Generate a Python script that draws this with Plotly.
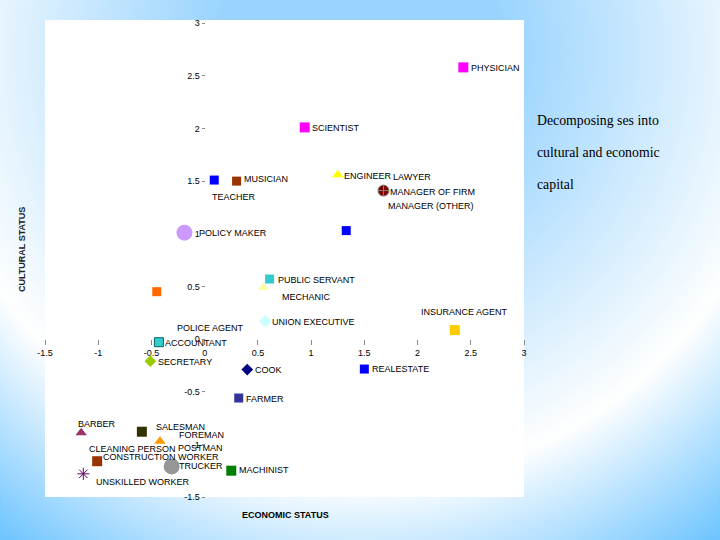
import zlib, struct, base64
import numpy as np
import plotly.graph_objects as go

# ---------------- data ----------------
occupations = ["PHYSICIAN", "SCIENTIST", "TEACHER", "MUSICIAN", "ENGINEER", "LAWYER",
               "MANAGER OF FIRM", "MANAGER (OTHER)", "POLICY MAKER", "POLICE AGENT",
               "PUBLIC SERVANT", "MECHANIC", "UNION EXECUTIVE", "INSURANCE AGENT",
               "ACCOUNTANT", "SECRETARY", "COOK", "REALESTATE", "FARMER", "BARBER",
               "SALESMAN", "POSTMAN", "CONSTRUCTION WORKER", "TRUCKER", "MACHINIST",
               "UNSKILLED WORKER"]
economic = [2.43, 0.94, 0.09, 0.30, 1.25, 1.70, 1.68, 1.33, -0.19, -0.45,
            0.61, 0.55, 0.57, 2.35, -0.43, -0.51, 0.40, 1.50, 0.32, -1.16,
            -0.59, -0.42, -1.01, -0.31, 0.25, -1.14]
cultural = [2.58, 2.01, 1.51, 1.50, 1.56, 1.54, 1.41, 1.03, 1.01, 0.45,
            0.57, 0.49, 0.17, 0.085, -0.03, -0.21, -0.29, -0.285, -0.56, -0.89,
            -0.88, -0.97, -1.16, -1.21, -1.25, -1.28]
marker_colors = ["#FF00FF", "#FF00FF", "#0000FF", "#993300", "#FFFF00", "#CCFFCC",
                 "#800000", "#0000FF", "#CC99FF", "#FF6600",
                 "#33CCCC", "#FFFF99", "#CCFFFF", "#FFCC00", "#33CCCC", "#99CC00",
                 "#000080", "#0000FF", "#333399", "#993366", "#333300", "#FF9900",
                 "#993300", "#969696", "#008000", "#660066"]
marker_symbols = ["square", "square", "square", "square", "triangle-up", "triangle-up",
                  "circle-cross", "square", "circle", "square",
                  "square", "triangle-up", "diamond", "square", "square", "diamond",
                  "diamond", "square", "square", "triangle-up", "square", "triangle-up",
                  "square", "circle", "square", "asterisk-open"]
marker_sizes = [10, 10, 9, 9, 10, 5, 11, 9, 16, 9,
                9, 9, 10, 10, 9, 9, 9, 9, 9, 10, 10, 10, 10, 16, 10, 10]
marker_line_colors = ["rgba(0,0,0,0)"] * 26
marker_line_colors[6] = "#7F7F7F"
marker_line_colors[14] = "#006666"
marker_line_colors[25] = "#660066"

label_text = ["PHYSICIAN", "SCIENTIST", "MUSICIAN", "TEACHER", "ENGINEER", "LAWYER",
              "MANAGER OF FIRM", "MANAGER (OTHER)", "POLICY MAKER", "PUBLIC SERVANT",
              "MECHANIC", "UNION EXECUTIVE", "INSURANCE AGENT", "POLICE AGENT",
              "ACCOUNTANT", "SECRETARY", "COOK", "REALESTATE", "FARMER", "BARBER",
              "SALESMAN", "FOREMAN", "POSTMAN", "CLEANING PERSON",
              "CONSTRUCTION WORKER", "TRUCKER", "MACHINIST", "UNSKILLED WORKER"]
label_x = [2.49, 1.00, 0.36, 0.06, 1.30, 1.76, 1.73, 1.71, -0.06, 0.68,
           0.72, 0.62, 2.02, -0.27, -0.38, -0.45, 0.46, 1.56, 0.38, -1.20,
           -0.47, -0.25, -0.26, -1.10, -0.96, -0.25, 0.31, -1.03]
label_y = [2.574, 2.004, 1.519, 1.349, 1.548, 1.538, 1.396, 1.263, 1.007, 0.560,
           0.399, 0.161, 0.256, 0.104, -0.038, -0.218, -0.294, -0.285, -0.570, -0.807,
           -0.836, -0.912, -1.035, -1.045, -1.121, -1.206, -1.244, -1.358]

tick_vals = [-1.5, -1, -0.5, 0, 0.5, 1, 1.5, 2, 2.5, 3]
tick_text = ["-1.5", "-1", "-0.5", "0", "0.5", "1", "1.5", "2", "2.5", "3"]

side_text = ["Decomposing ses into", "cultural and economic", "capital"]

# ---------------- background gradient (png) ----------------
W, H = 360, 270
gx, gy = np.meshgrid((np.arange(W) + 0.5) * 2, (np.arange(H) + 0.5) * 2)
d = np.hypot(gx - 360, gy - 52) - 431
white = np.array([255, 255, 255], float)
c_in = np.array([154, 212, 254], float)
c_out = np.array([88, 188, 255], float)
t_in = np.clip(-d / 290, 0, 1)[..., None]
t_out = np.clip(d / 200, 0, 1)[..., None]
img = np.where((d < 0)[..., None], white * (1 - t_in) + c_in * t_in,
               white * (1 - t_out) + c_out * t_out).astype(np.uint8)


def make_png(arr):
    h, w, _ = arr.shape
    raw = b"".join(b"\x00" + arr[r].tobytes() for r in range(h))

    def chunk(tag, data):
        return (struct.pack(">I", len(data)) + tag + data +
                struct.pack(">I", zlib.crc32(tag + data) & 0xffffffff))
    return (b"\x89PNG\r\n\x1a\n" +
            chunk(b"IHDR", struct.pack(">IIBBBBB", w, h, 8, 2, 0, 0, 0)) +
            chunk(b"IDAT", zlib.compress(raw, 9)) + chunk(b"IEND", b""))


bg_src = "data:image/png;base64," + base64.b64encode(make_png(img)).decode()

# ---------------- figure ----------------
FW, FH = 720, 540
x_dom = [45 / FW, 524 / FW]
y_dom = [1 - 497 / FH, 1 - 20 / FH]
x_rng = [-1.5, 3.0]
y_rng = [-1.5, 3.03]
x_zero_paper = x_dom[0] + (0 - x_rng[0]) / (x_rng[1] - x_rng[0]) * (x_dom[1] - x_dom[0])
y_zero_paper = y_dom[0] + (0 - y_rng[0]) / (y_rng[1] - y_rng[0]) * (y_dom[1] - y_dom[0])

fig = go.Figure()
fig.add_trace(go.Scatter(
    x=economic, y=cultural, mode="markers", text=occupations, hoverinfo="text",
    marker=dict(color=marker_colors, symbol=marker_symbols, size=marker_sizes,
                opacity=1, line=dict(color=marker_line_colors, width=1)),
    showlegend=False))

font_lbl = dict(family="Liberation Sans, Arial, sans-serif", size=9, color="black")
for t, lx, ly in zip(label_text, label_x, label_y):
    fig.add_annotation(x=lx, y=ly, xref="x", yref="y", text=t, showarrow=False,
                       xanchor="left", yanchor="middle", font=font_lbl, borderpad=0)

for i, s in enumerate(side_text):
    fig.add_annotation(x=535 / FW, y=1 - (120 + 32.5 * i) / FH, xref="paper", yref="paper",
                       text=s, showarrow=False, xanchor="left", yanchor="middle",
                       font=dict(family="Liberation Serif, Times New Roman, serif",
                                 size=13.8, color="black"))

fig.add_annotation(x=285 / FW, y=1 - 515 / FH, xref="paper", yref="paper",
                   text="<b>ECONOMIC STATUS</b>", showarrow=False,
                   xanchor="center", yanchor="middle",
                   font=dict(family="Liberation Sans, Arial, sans-serif", size=9, color="black"))
fig.add_annotation(x=22 / FW, y=1 - 250 / FH, xref="paper", yref="paper",
                   text="<b>CULTURAL STATUS</b>", showarrow=False, textangle=-90,
                   xanchor="center", yanchor="middle",
                   font=dict(family="Liberation Sans, Arial, sans-serif", size=9, color="#222"))

axis_common = dict(showgrid=False, zeroline=False, showline=False, ticks="outside",
                   tickcolor="#888", tickvals=tick_vals, ticktext=tick_text,
                   tickfont=dict(family="Liberation Sans, Arial, sans-serif", size=9,
                                 color="black"),
                   layer="below traces", fixedrange=True)

fig.update_layout(
    autosize=True,
    margin=dict(l=0, r=0, t=0, b=0, autoexpand=False),
    paper_bgcolor="#DDEFFE", plot_bgcolor="white",
    xaxis=dict(domain=x_dom, range=x_rng, anchor="free", position=y_zero_paper,
               ticklen=5, **axis_common),
    yaxis=dict(domain=y_dom, range=y_rng, anchor="free", position=x_zero_paper,
               ticklen=3, **axis_common),
    images=[dict(source=bg_src, xref="paper", yref="paper", x=0, y=1, sizex=1, sizey=1,
                 xanchor="left", yanchor="top", sizing="stretch", layer="below")],
    shapes=[dict(type="rect", xref="paper", yref="paper", x0=x_dom[0], x1=x_dom[1],
                 y0=y_dom[0], y1=y_dom[1], fillcolor="white", line=dict(width=0),
                 layer="below")],
)

fig.write_html(
    "out.html",
    config={"displayModeBar": False, "responsive": True},
    default_width="100vw", default_height="100vh",
    post_script="document.documentElement.style.margin='0';"
                "document.body.style.margin='0';"
                "document.body.style.overflow='hidden';"
                "var gd=document.getElementById('{plot_id}');"
                "gd.style.width='100vw';gd.style.height='100vh';"
                "Plotly.Plots.resize(gd);")
